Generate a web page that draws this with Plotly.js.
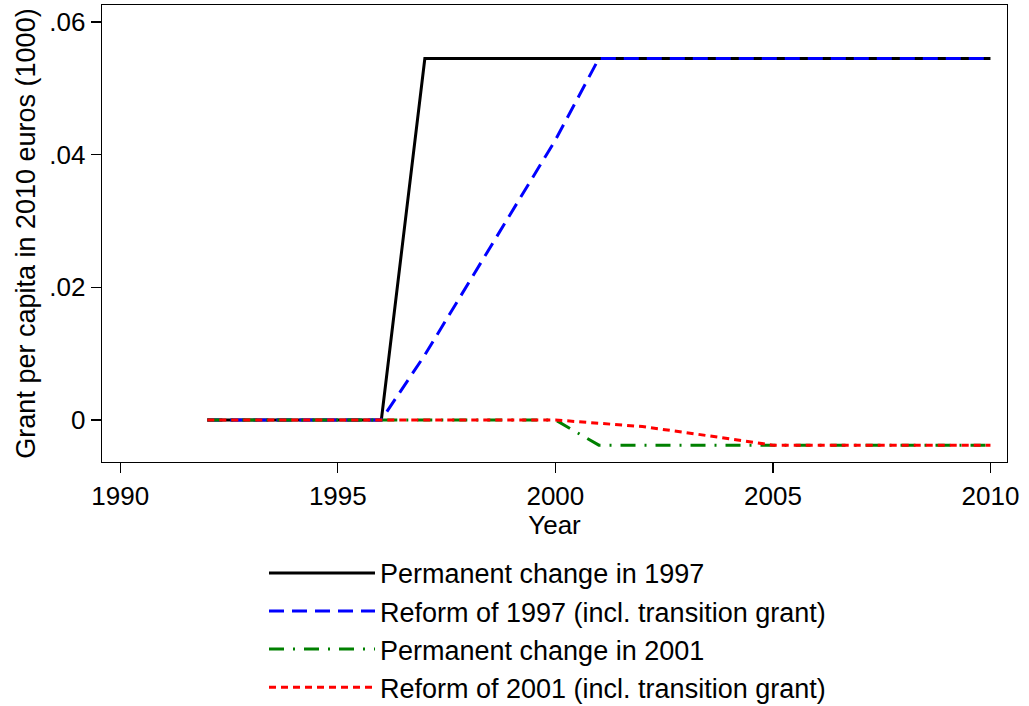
<!DOCTYPE html>
<html>
<head>
<meta charset="utf-8">
<script src="https://cdn.plot.ly/plotly-3.0.1.min.js"></script>
<style>html,body{margin:0;padding:0;background:#fff;}#chart{width:1029px;height:706px;}</style>
</head>
<body>
<div id="chart"></div>
<script>
const years = [1992,1993,1994,1995,1996,1997,1998,1999,2000,2001,2002,2003,2004,2005,2006,2007,2008,2009,2010];
const permanent1997 = [0,0,0,0,0,0.0545,0.0545,0.0545,0.0545,0.0545,0.0545,0.0545,0.0545,0.0545,0.0545,0.0545,0.0545,0.0545,0.0545];
const reform1997 = [0,0,0,0,0,0.0098,0.0206,0.0314,0.0422,0.0545,0.0545,0.0545,0.0545,0.0545,0.0545,0.0545,0.0545,0.0545,0.0545];
const permanent2001 = [0,0,0,0,0,0,0,0,0,-0.0038,-0.0038,-0.0038,-0.0038,-0.0038,-0.0038,-0.0038,-0.0038,-0.0038,-0.0038];
const reform2001 = [0,0,0,0,0,0,0,0,0,-0.0005,-0.0010,-0.0019,-0.0029,-0.0038,-0.0038,-0.0038,-0.0038,-0.0038,-0.0038];
const seriesNames = ["Permanent change in 1997","Reform of 1997 (incl. transition grant)","Permanent change in 2001","Reform of 2001 (incl. transition grant)"];
const xTicks = [1990,1995,2000,2005,2010];
const yTicks = [0,0.02,0.04,0.06];
const yTickLabels = ["0",".02",".04",".06"];

const FONT = "Liberation Sans, Arial, sans-serif";
const traces = [
  {x: years, y: permanent1997, name: seriesNames[0], mode: "lines", legendgroup: "a",
   line: {color: "#000000", width: 3}},
  {x: years, y: reform1997, name: seriesNames[1], mode: "lines", legendgroup: "b",
   line: {color: "#0000ff", width: 3, dash: "15px,8px"}},
  {x: years, y: permanent2001, name: seriesNames[2], mode: "lines", legendgroup: "c",
   line: {color: "#008000", width: 3, dash: "15px,9px,2px,9px"}},
  {x: years, y: reform2001, name: seriesNames[3], mode: "lines", legendgroup: "d",
   line: {color: "#ff0000", width: 3, dash: "7px,5px"}}
];
const layout = {
  width: 1029, height: 706,
  margin: {l: 102, r: 22, t: 5, b: 244, autoexpand: false},
  paper_bgcolor: "#ffffff", plot_bgcolor: "#ffffff",
  font: {family: FONT, size: 26, color: "#000"},
  showlegend: true,
  legend: {
    x: 0.179, xanchor: "left", y: -0.190, yanchor: "top",
    orientation: "v", traceorder: "grouped", tracegroupgap: 0,
    font: {family: FONT, size: 27, color: "#000"},
    itemwidth: 106, bgcolor: "rgba(0,0,0,0)"
  },
  xaxis: {
    range: [1989.58, 2010.38], tickvals: xTicks, ticktext: xTicks.map(String),
    ticks: "outside", ticklen: 10, tickwidth: 1.3, tickcolor: "#000",
    showline: true, linecolor: "#000", linewidth: 1.3, mirror: true,
    showgrid: false, zeroline: false, automargin: false,
    tickfont: {family: FONT, size: 26},
    title: {text: "Year", font: {family: FONT, size: 26}, standoff: 0}
  },
  yaxis: {
    range: [-0.00634, 0.06257], tickvals: yTicks, ticktext: yTickLabels,
    ticks: "outside", ticklen: 10, tickwidth: 1.3, tickcolor: "#000",
    showline: true, linecolor: "#000", linewidth: 1.3, mirror: true,
    showgrid: false, zeroline: false, automargin: false,
    tickfont: {family: FONT, size: 26},
    title: {text: "Grant per capita in 2010 euros (1000)", font: {family: FONT, size: 27}, standoff: 6}
  }
};
Plotly.newPlot("chart", traces, layout, {displayModeBar: false, staticPlot: true});
</script>
</body>
</html>
